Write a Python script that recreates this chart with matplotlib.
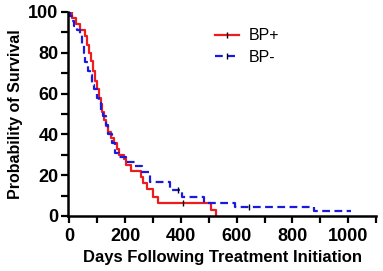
import matplotlib
matplotlib.use("Agg")
import matplotlib.pyplot as plt
from matplotlib.lines import Line2D
from matplotlib.ticker import MultipleLocator

plt.rcParams['font.family'] = ['Liberation Sans', 'DejaVu Sans']

# curvas de supervivencia (dias, % al final del paso)
red_days = [0, 10, 25, 40, 55, 62, 70, 78, 86, 92, 98, 105, 112, 118, 124, 132, 140, 150,
            160, 170, 180, 195, 205, 220, 257, 266, 278, 300, 318, 507, 526]
red_surv = [100, 97, 94, 91, 88, 84, 80, 76, 71, 66, 62, 58, 55, 51, 47, 44, 41, 38,
            36, 33, 30, 28, 25, 22, 19, 16, 13, 9.5, 6.2, 3.0, 0]
red_cens_days = [408]
red_cens_surv = [6.2]

blue_days = [0, 4, 10, 18, 28, 38, 45, 52, 58, 66, 74, 82, 90, 98, 106, 114, 122, 130,
             140, 152, 165, 180, 205, 235, 262, 288, 360, 405, 482, 595, 878, 1010]
blue_surv = [100, 97.8, 95.6, 93.3, 91.1, 88.9, 84.4, 80, 75.6, 71.1, 68.9, 64.4, 62.2,
             57.8, 55.6, 51.1, 48.9, 44.4, 40, 35.6, 31.1, 28.9, 26.7, 24.4, 21.5, 16.8,
             12.7, 9.5, 6.4, 4.3, 2.2, 2.2]
blue_cens_days = [391, 644]
blue_cens_surv = [12.7, 4.3]

rojo = '#ee1c1c'
azul = '#1a1adf'

fig = plt.figure(figsize=(3.83, 2.71), dpi=100)
ax = fig.add_axes([0.178, 0.203, 0.804, 0.753])

ax.step(red_days, red_surv, where='post', color=rojo, lw=1.6)
ax.plot(red_cens_days, red_cens_surv, ls='none', marker='|', color='k', ms=4, mew=1)
ax.step(blue_days, blue_surv, where='post', color=azul, lw=1.6, ls=(0, (3.5, 2)))
ax.plot(blue_cens_days, blue_cens_surv, ls='none', marker='|', color='k', ms=4, mew=1)

ax.set_xlim(-4, 1100)
ax.set_ylim(0, 100)
ax.xaxis.set_major_locator(MultipleLocator(200))
ax.xaxis.set_minor_locator(MultipleLocator(100))
ax.yaxis.set_major_locator(MultipleLocator(20))
ax.yaxis.set_minor_locator(MultipleLocator(10))

for s in ['top', 'right']:
    ax.spines[s].set_visible(False)
for s in ['left', 'bottom']:
    ax.spines[s].set_linewidth(1.8)

ax.tick_params(which='major', length=5, width=1.6, labelsize=13)
ax.tick_params(axis='x', pad=4)
ax.tick_params(axis='y', pad=2)
ax.tick_params(which='minor', length=5, width=1.6)
for lab in ax.get_xticklabels() + ax.get_yticklabels():
    lab.set_fontweight('bold')

ax.set_xlabel('Days Following Treatment Initiation', fontsize=12, fontweight='bold', labelpad=3)
ax.set_ylabel('Probability of Survival', fontsize=11.5, fontweight='bold', labelpad=4)

handles = [Line2D([], [], color=rojo, lw=1.6, marker='|', ms=4, mec='k'),
           Line2D([], [], color=azul, lw=1.6, ls=(0, (3.5, 2)), marker='|', ms=4, mec='k')]
ax.legend(handles, ['BP+', 'BP-'], loc='upper left', bbox_to_anchor=(0.43, 0.99),
          frameon=False, fontsize=11.5, handlelength=1.5, handletextpad=0.6,
          labelspacing=0.4)

fig.savefig('out.png', dpi=100)
